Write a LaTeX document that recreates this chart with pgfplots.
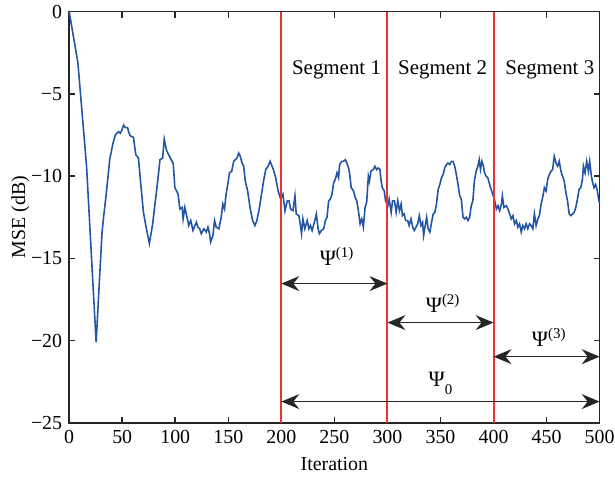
\documentclass[border=0pt]{standalone}
\usepackage{fontspec}
\setmainfont{Liberation Serif}
\usepackage{pgfplots}
\pgfplotsset{compat=1.18}
\usetikzlibrary{arrows.meta}
\definecolor{mblue}{RGB}{35,85,165}
\definecolor{mred}{RGB}{238,50,50}
\definecolor{axgray}{RGB}{38,38,38}
\begin{document}
\fontsize{10}{12}\selectfont
\begin{tikzpicture}
\begin{axis}[
  scale only axis, width=266.5pt, height=206.7pt,
  at={(0,0)}, anchor=south west,
  xmin=0, xmax=500, ymin=-25, ymax=0,
  xtick={0,50,...,500}, ytick={-25,-20,...,0},
  yticklabels={−25,−20,−15,−10,−5,0},
  /pgf/number format/assume math mode=true,
  tick align=inside, tick pos=both,
  major tick length=3pt,
  axis line style={axgray, line width=0.8pt},
  every tick/.style={axgray, line width=0.8pt},
  xlabel={Iteration}, ylabel={MSE (dB)},
  every axis y label/.style={at={(axis description cs:-0.092,0.5)}, rotate=90, anchor=center},
  clip=false,
]
\addplot[mblue, line width=0.8pt] coordinates {
(0,0) (8.2,-3.1) (16.4,-9.4) (25.4,-20.1) (28.8,-16.0) (31,-13.4) (32.6,-12.4) (35.1,-11.0) (38.2,-9.0) (41.3,-8.0)
(43.5,-7.5) (46.6,-7.3) (48.2,-7.4) (49.7,-7.2) (51.3,-6.9) (52.9,-7.05) (55,-7.05) (56,-7.3) (57.5,-7.55) (60.6,-7.65)
(62.8,-8.7) (65.3,-8.9) (67.5,-10.5) (70,-12.2) (72.5,-13.1) (75.6,-14.1) (78.7,-12.9) (80.9,-11.7) (83.1,-10.5) (85.6,-9.0)
(88.1,-8.9) (89.6,-7.75) (91.8,-8.45) (95,-8.85) (98.1,-9.25) (99.6,-10.7) (102.7,-11.1) (104.3,-12.0) (106.5,-11.9) (107.4,-12.6)
(109,-11.9) (111.4,-12.6) (112.7,-13.0) (114.6,-12.7) (116.7,-13.3) (119.9,-12.8) (121.4,-13.1) (123,-13.2) (124.5,-13.5) (127,-13.2)
(129.2,-13.4) (130.8,-13.1) (132.3,-13.5) (133.3,-14.0) (135.5,-13.6) (137,-12.7) (138.6,-13.1) (141.1,-13.2) (143.3,-12.5) (144.8,-11.7)
(146.4,-12.0) (147.9,-11.1) (149.5,-10.5) (151.1,-9.8) (153.2,-9.7) (155.1,-9.1) (156.7,-9.0) (158.2,-8.9) (159.8,-8.6) (161.3,-8.8)
(162.9,-9.2) (164.5,-9.4) (166,-10.3) (168.2,-10.9) (170.7,-12.0) (172.9,-12.7) (175.1,-13.0) (176.9,-12.7) (179.1,-12.0) (181.3,-11.1)
(183.2,-10.3) (185.3,-9.6) (187.5,-9.4) (189.4,-9.1) (190.6,-9.3) (192.5,-9.6) (194.7,-10.1) (196.9,-10.9)
(199.4,-11.4) (201.5,-11.1) (203.4,-12.1) (205.6,-11.5) (207.2,-11.5) (208.7,-12.0) (210.9,-12.1) (212.8,-11.2) (214,-12.3) (216.5,-12.4)
(218,-13.0) (219,-13.5) (220.3,-12.6) (222.1,-13.2) (224.3,-12.7) (225.9,-13.2) (227.4,-13.0) (229,-13.3) (231.5,-12.7) (233,-12.3)
(234.6,-13.2) (235.8,-13.5) (237.7,-13.3) (239.9,-13.2) (241.5,-12.7) (243,-12.5) (244.6,-11.5) (246.1,-11.4) (247.7,-11.1) (249.3,-10.4)
(250.8,-10.2) (252.4,-9.8) (253.9,-10.1) (254.9,-9.3) (257,-9.1) (258.6,-9.1) (260.2,-9.0) (261.7,-9.2) (263.3,-9.5) (264.2,-9.8)
(265.8,-10.7) (268,-10.9) (269.5,-11.3) (271.1,-11.5) (272.6,-12.1) (274.2,-12.9) (275.8,-12.6) (277.3,-13.1) (278.9,-11.9) (280.4,-11.6)
(282,-10.0) (283,-10.3) (284.5,-9.7) (286.7,-9.6) (288.2,-9.4) (289.8,-9.6) (291.3,-9.5) (292.9,-9.6) (293.8,-10.2) (295.1,-10.7)
(297,-10.9) (298.2,-11.5)
(300.4,-11.8) (301.6,-11.4) (303.5,-12.2) (304.8,-11.5) (306.6,-11.5) (308.2,-12.2) (309.7,-11.5) (311.3,-12.1) (312.9,-11.7) (314.1,-12.4)
(315.7,-12.3) (317.2,-12.7) (319.1,-12.7) (320.4,-13.0) (322.2,-12.6) (323.8,-13.1) (325.3,-13.3) (326.9,-13.1) (328.5,-12.9) (330,-12.4)
(331.6,-13.0) (333.1,-12.8) (334.1,-13.6) (335.6,-13.0) (336.9,-12.5) (338.4,-13.2) (340,-13.4) (341.6,-12.8) (343.1,-12.3) (344.7,-12.2)
(346.2,-11.7) (347.8,-10.8) (349.4,-10.5) (350.9,-10.1) (352.5,-9.9) (354,-9.5) (355.6,-9.3) (357.1,-9.2) (358.7,-9.3) (360.3,-9.1)
(361.8,-9.1) (363.4,-9.4) (364.9,-9.9) (366.5,-10.5) (368.1,-11.2) (369.6,-11.4) (371.2,-12.5) (372.7,-12.6) (374.3,-12.5) (375.9,-12.7)
(377.4,-12.5) (379,-11.8) (380.5,-11.5) (382.1,-10.2) (383.6,-9.7) (385.2,-9.4) (386.5,-9.0) (387.7,-9.6) (389,-9.1) (390.5,-9.4)
(391.4,-9.8) (393,-10.0) (394.6,-10.1) (397.1,-10.7) (399.2,-11.1)
(401.1,-11.5) (402.7,-12.0) (404.2,-11.8) (405.8,-12.1) (407.4,-11.7) (408.3,-11.2) (409.8,-11.9) (412,-11.8) (413.6,-12.0) (415.2,-12.3)
(416.7,-12.6) (418.3,-12.4) (419.8,-12.9) (421.4,-12.7) (422.9,-13.1) (424.5,-12.9) (426.1,-13.4) (427.6,-13.0) (429.2,-13.2) (430.7,-12.9)
(432.3,-13.2) (433.9,-12.9) (435.4,-13.0) (437,-13.2) (438.5,-12.3) (440.1,-13.0) (441.7,-12.6) (443.2,-12.4) (444.8,-11.7) (446.3,-11.3)
(447.9,-10.7) (449.5,-10.9) (451,-10.2) (452.6,-9.9) (454.1,-9.7) (455.7,-9.6) (457.2,-8.8) (458.8,-9.2) (460.4,-9.4) (461.9,-9.1)
(463.5,-9.7) (465,-10.0) (466.6,-10.3) (468.2,-11.0) (469.7,-11.5) (471.3,-12.3) (472.8,-12.4) (474.4,-12.3) (476,-12.2) (477.5,-11.9)
(479.1,-11.4) (480.6,-10.8) (482.2,-10.7) (483.8,-10.2) (484.7,-9.4) (486.2,-9.8) (487.8,-9.1) (489.4,-9.7) (490.6,-9.1) (492.2,-10.0)
(493.4,-10.4) (494.7,-10.7) (496.2,-10.5) (497.8,-10.9) (499.3,-11.5) (500,-11.6)
};
\addplot[mred, line width=1pt] coordinates {(200,-25) (200,0)};
\addplot[mred, line width=1pt] coordinates {(300,-25) (300,0)};
\addplot[mred, line width=1pt] coordinates {(400,-25) (400,0)};
\tikzset{psiarrow/.style={{Stealth[length=9pt,width=7.5pt,inset=3pt]}-{Stealth[length=9pt,width=7.5pt,inset=3pt]}, axgray, line width=0.8pt}}
\draw[psiarrow] (axis cs:200,-16.53) -- (axis cs:300,-16.53);
\draw[psiarrow] (axis cs:300,-18.9) -- (axis cs:400,-18.9);
\draw[psiarrow] (axis cs:400,-20.97) -- (axis cs:500,-20.97);
\draw[psiarrow] (axis cs:200,-23.7) -- (axis cs:500,-23.7);
\node[anchor=base, inner sep=0pt] at (axis cs:252,-15.45) {\fontsize{11}{12}\selectfont Ψ\raisebox{4pt}{\fontsize{7.5}{8}\selectfont(1)}};
\node[anchor=base, inner sep=0pt] at (axis cs:352,-18.3) {\fontsize{11}{12}\selectfont Ψ\raisebox{4pt}{\fontsize{7.5}{8}\selectfont(2)}};
\node[anchor=base, inner sep=0pt] at (axis cs:452,-20.36) {\fontsize{11}{12}\selectfont Ψ\raisebox{4pt}{\fontsize{7.5}{8}\selectfont(3)}};
\node[anchor=base, inner sep=0pt] at (axis cs:350,-22.8) {\fontsize{11}{12}\selectfont Ψ\raisebox{-4pt}{\fontsize{7.5}{8}\selectfont 0}};
\node at (axis cs:252,-3.53) {\fontsize{10.5}{12}\selectfont Segment 1};
\node at (axis cs:352,-3.53) {\fontsize{10.5}{12}\selectfont Segment 2};
\node at (axis cs:453,-3.53) {\fontsize{10.5}{12}\selectfont Segment 3};
\end{axis}
\pgfresetboundingbox
\useasboundingbox (-34.75pt,-27.5pt) rectangle (274.2pt,212.5pt);
\end{tikzpicture}
\end{document}
